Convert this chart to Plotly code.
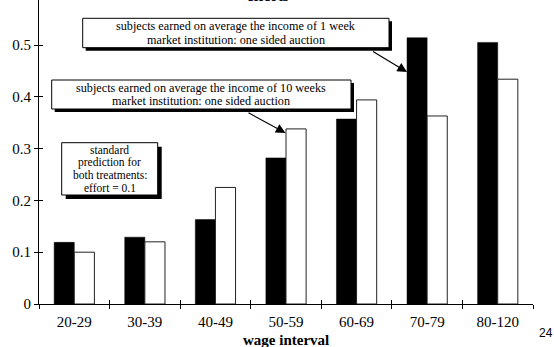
import plotly.graph_objects as go

categories = ["20-29", "30-39", "40-49", "50-59", "60-69", "70-79", "80-120"]
effort_1_week = [0.119, 0.129, 0.163, 0.282, 0.357, 0.514, 0.505]
effort_10_weeks = [0.100, 0.120, 0.225, 0.338, 0.394, 0.363, 0.434]
y_ticks = [0, 0.1, 0.2, 0.3, 0.4, 0.5]

W, H = 554, 347
L, R, T, B = 39, 21, 0, 43
PW, PH = W - L - R, H - T - B


def X(px):
    return (px - L) / PW


def Y(py):
    return (T + PH - py) / PH


SERIF = "Liberation Serif"

fig = go.Figure()
fig.add_trace(go.Bar(x=categories, y=effort_1_week, name="1 week",
                     marker=dict(color="black", line=dict(color="black", width=0.5))))
fig.add_trace(go.Bar(x=categories, y=effort_10_weeks, name="10 weeks",
                     marker=dict(color="white", line=dict(color="#222", width=1))))

shapes = []
annotations = []


def box(x0, y0, x1, y1, shadow, lines, spacing, size):
    shapes.append(dict(type="rect", xref="paper", yref="paper",
                       x0=X(x0 + shadow), x1=X(x1 + shadow), y0=Y(y0 + shadow), y1=Y(y1 + shadow),
                       fillcolor="black", line=dict(width=0), layer="above"))
    shapes.append(dict(type="rect", xref="paper", yref="paper",
                       x0=X(x0), x1=X(x1), y0=Y(y0), y1=Y(y1),
                       fillcolor="white", line=dict(color="black", width=1), layer="above"))
    cx = (x0 + x1) / 2
    cy = (y0 + y1) / 2
    n = len(lines)
    for i, txt in enumerate(lines):
        ly = cy + (i - (n - 1) / 2) * spacing
        annotations.append(dict(text=txt, xref="paper", yref="paper", x=X(cx), y=Y(ly),
                                xanchor="center", yanchor="middle", showarrow=False,
                                borderpad=0,
                                font=dict(family=SERIF, size=size, color="black")))


box(82.7, 18.3, 389, 47.7, 3,
    ["subjects earned on average the income of 1 week", "market institution: one sided auction"],
    13.6, 12.2)
box(51.7, 80, 351, 109, 3,
    ["subjects earned on average the income of 10 weeks", "market institution: one sided auction"],
    13.6, 12.2)
box(61.7, 142.7, 157.7, 195, 4,
    ["standard", "prediction for", "both treatments:", "effort = 0.1"],
    12.8, 11.5)

# arrows
for tip, tail in [((407, 72), (371.5, 50.5)), ((285.5, 133), (247, 112))]:
    annotations.append(dict(text="", xref="paper", yref="paper", x=X(tip[0]), y=Y(tip[1]),
                            axref="pixel", ayref="pixel", ax=tail[0] - tip[0], ay=tail[1] - tip[1],
                            showarrow=True, arrowhead=2, arrowsize=1.6, arrowwidth=1.2,
                            arrowcolor="black"))

annotations.append(dict(text="<b>wage interval</b>", xref="paper", yref="paper",
                        x=X(286), y=Y(339.5), xanchor="center", yanchor="middle", showarrow=False,
                        font=dict(family=SERIF, size=15, color="black")))
annotations.append(dict(text="<b>efforts</b>", xref="paper", yref="paper",
                        x=X(268), y=Y(-4.5), xanchor="center", yanchor="middle", showarrow=False,
                        font=dict(family=SERIF, size=15, color="black")))
annotations.append(dict(text="24", xref="paper", yref="paper",
                        x=X(546), y=Y(332.5), xanchor="center", yanchor="middle", showarrow=False,
                        font=dict(family="Liberation Sans", size=12, color="black")))

fig.update_layout(
    width=W, height=H,
    margin=dict(l=L, r=R, t=T, b=B, pad=0),
    paper_bgcolor="white", plot_bgcolor="white",
    showlegend=False,
    barmode="group", bargap=0.43, bargroupgap=0,
    font=dict(family=SERIF, size=15, color="black"),
    xaxis=dict(type="category", categoryarray=categories, range=[-0.5, 6.5],
               showline=True, linecolor="black", linewidth=1.2,
               ticks="outside", tickson="boundaries", ticklen=4, tickcolor="black", tickwidth=1.2,
               showgrid=False, zeroline=False, tickfont=dict(family=SERIF, size=15),
               ticklabelstandoff=4),
    xaxis2=dict(overlaying="x", range=[-0.5, 6.5], tickvals=[i - 0.5 for i in range(8)],
                ticks="inside", ticklen=4, tickcolor="black", tickwidth=1.2,
                showticklabels=False, showgrid=False, zeroline=False, showline=False,
                anchor="y", side="bottom"),
    yaxis=dict(range=[0, (PH) / 518.0], tickvals=y_ticks, ticktext=[str(v) for v in y_ticks],
               showline=True, linecolor="black", linewidth=1.2,
               ticks="outside", ticklen=4, tickcolor="black", tickwidth=1.2,
               showgrid=False, zeroline=False, tickfont=dict(family=SERIF, size=15)),
    yaxis2=dict(overlaying="y", range=[0, (PH) / 518.0], tickvals=y_ticks,
                ticks="inside", ticklen=4, tickcolor="black", tickwidth=1.2,
                showticklabels=False, showgrid=False, zeroline=False, showline=False,
                anchor="x", side="left"),
    shapes=shapes,
    annotations=annotations,
)

# invisible trace so the overlay axes are drawn
fig.add_trace(go.Scatter(x=[0], y=[0], xaxis="x2", yaxis="y2", mode="markers",
                         marker=dict(opacity=0), hoverinfo="skip", showlegend=False))

fig.write_html("out.html", config={"displayModeBar": False},
               post_script="document.body.style.margin='0';document.body.style.padding='0';")
